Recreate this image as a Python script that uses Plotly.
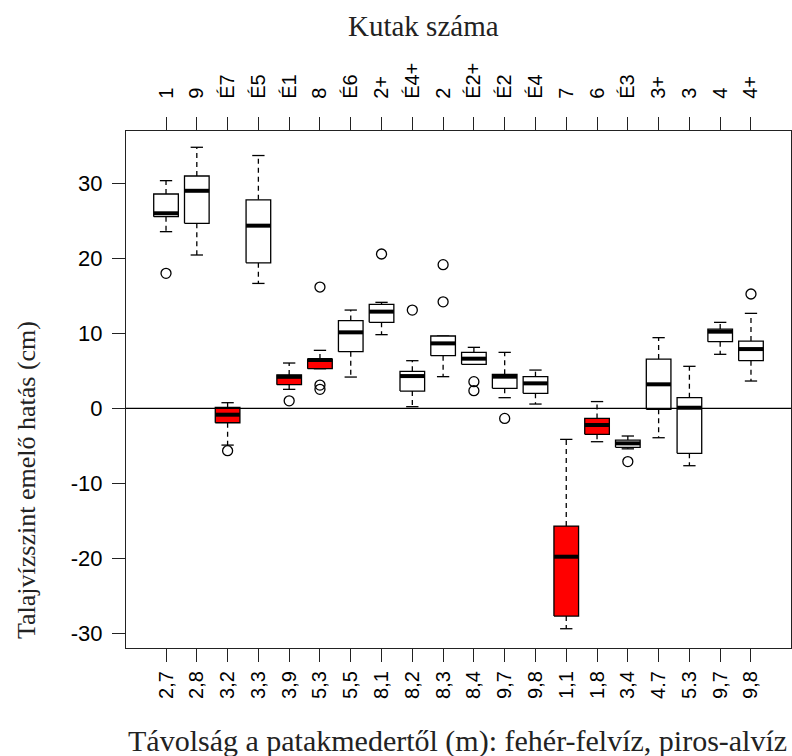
import plotly.graph_objects as go

# Well identifiers (top axis) and distance from the stream bed in metres (bottom axis)
wells = ["1", "9", "É7", "É5", "É1", "8", "É6", "2+", "É4+", "2",
         "É2+", "É2", "É4", "7", "6", "É3", "3+", "3", "4", "4+"]
distances = ["2,7", "2,8", "3,2", "3,3", "3,9", "5,3", "5,5", "8,1", "8,2", "8,3",
             "8,4", "9,7", "9,8", "1,1", "1,8", "3,4", "4.7", "5.3", "9,7", "9,8"]
y_ticks = [-30, -20, -10, 0, 10, 20, 30]
y_tick_text = ["-30", "-20", "-10", "0", "10", "20", "30"]

# Box statistics (cm)
whisker_low = [23.55, 20.44, -4.9, 16.65, 2.53, 5.28, 4.17, 9.82, 0.22, 4.22,
               5.86, 1.42, 0.57, -29.38, -4.45, -5.4, -3.92, -7.65, 7.2, 3.64]
q1 = [25.55, 24.66, -1.92, 19.4, 3.15, 5.28, 7.55, 11.46, 2.3, 7.02,
      5.86, 2.66, 2.0, -27.7, -3.47, -5.2, -0.13, -6.0, 8.89, 6.35]
median = [26.0, 29.0, -0.85, 24.35, 4.2, 6.44, 10.13, 12.89, 4.3, 8.66,
          6.62, 4.22, 3.33, -19.78, -2.22, -4.67, 3.2, 0.08, 10.22, 7.9]
q3 = [28.57, 30.97, 0.13, 27.8, 4.44, 6.57, 11.7, 13.86, 4.93, 9.64,
      7.46, 4.53, 4.22, -15.7, -1.34, -4.23, 6.57, 1.42, 10.57, 8.97]
whisker_high = [30.35, 34.8, 0.75, 33.7, 6.04, 7.73, 13.1, 14.13, 6.35, 9.64,
                8.13, 7.46, 5.1, -4.14, 0.9, -3.69, 9.42, 5.6, 11.46, 12.66]
outliers = [[18.0], [], [-5.65], [], [1.0], [3.1, 2.53, 16.17], [], [20.57], [13.1], [19.15, 14.2],
            [3.55, 2.35], [-1.34], [], [], [], [-7.1], [], [], [], [15.24]]
# groundwater below the stream level (alvíz) drawn in red
is_red = [False, False, True, False, True, True, False, False, False, False,
          False, False, False, True, True, False, False, False, False, False]

HALF_BOX = 0.4
HALF_CAP = 0.2
X_RANGE = [-0.3, 21.3]
positions = list(range(1, len(wells) + 1))

fig = go.Figure()

white_x, white_y, red_x, red_y = [], [], [], []
wh_x, wh_y, cap_x, cap_y, med_x, med_y, out_x, out_y = [], [], [], [], [], [], [], []
for i, p in enumerate(positions):
    rx = [p - HALF_BOX, p + HALF_BOX, p + HALF_BOX, p - HALF_BOX, p - HALF_BOX, None]
    ry = [q1[i], q1[i], q3[i], q3[i], q1[i], None]
    if is_red[i]:
        red_x += rx
        red_y += ry
    else:
        white_x += rx
        white_y += ry
    wh_x += [p, p, None, p, p, None]
    wh_y += [q3[i], whisker_high[i], None, q1[i], whisker_low[i], None]
    cap_x += [p - HALF_CAP, p + HALF_CAP, None, p - HALF_CAP, p + HALF_CAP, None]
    cap_y += [whisker_high[i], whisker_high[i], None, whisker_low[i], whisker_low[i], None]
    med_x += [p - HALF_BOX, p + HALF_BOX, None]
    med_y += [median[i], median[i], None]
    for v in outliers[i]:
        out_x.append(p)
        out_y.append(v)

# dashed whiskers and solid staples
fig.add_trace(go.Scatter(x=wh_x, y=wh_y, mode="lines",
                         line=dict(color="black", width=1.3, dash="5px,4px"),
                         hoverinfo="skip"))
fig.add_trace(go.Scatter(x=cap_x, y=cap_y, mode="lines",
                         line=dict(color="black", width=1.3), hoverinfo="skip"))
# boxes
fig.add_trace(go.Scatter(x=white_x, y=white_y, mode="lines", fill="toself",
                         fillcolor="white", line=dict(color="black", width=1.3),
                         hoverinfo="skip"))
fig.add_trace(go.Scatter(x=red_x, y=red_y, mode="lines", fill="toself",
                         fillcolor="#ff0000", line=dict(color="black", width=1.3),
                         hoverinfo="skip"))
# medians
fig.add_trace(go.Scatter(x=med_x, y=med_y, mode="lines",
                         line=dict(color="black", width=4), hoverinfo="skip"))
# outliers
fig.add_trace(go.Scatter(x=out_x, y=out_y, mode="markers",
                         marker=dict(symbol="circle-open", size=10, color="black",
                                     line=dict(width=1.3)),
                         hoverinfo="skip"))
# zero reference line
fig.add_trace(go.Scatter(x=X_RANGE, y=[0, 0], mode="lines",
                         line=dict(color="black", width=1.2), hoverinfo="skip"))
# carrier trace for the top axis
fig.add_trace(go.Scatter(x=[1], y=[0], xaxis="x2", mode="markers",
                         marker=dict(opacity=0), hoverinfo="skip"))

x_tick_font = dict(family="Liberation Sans, Arial, sans-serif", size=20, color="black")
y_tick_font = dict(family="Liberation Sans, Arial, sans-serif", size=22, color="black")
axis_common = dict(showgrid=False, zeroline=False, showline=True, linecolor="#222",
                   linewidth=1.3, ticks="outside", ticklen=13, tickwidth=1.3,
                   tickcolor="#222")

fig.update_layout(
    width=792, height=756,
    margin=dict(l=126, r=1, t=131, b=108),
    paper_bgcolor="white", plot_bgcolor="white",
    showlegend=False,
    xaxis=dict(range=X_RANGE, tickvals=positions, ticktext=distances,
               tickangle=-90, ticklabelstandoff=1, tickfont=x_tick_font, **axis_common),
    xaxis2=dict(range=X_RANGE, tickvals=positions, ticktext=wells,
                tickangle=-90, overlaying="x", side="top", anchor="y",
                ticklabelstandoff=14, tickfont=x_tick_font, **axis_common),
    yaxis=dict(range=[-31.95, 36.97], tickvals=y_ticks, ticktext=y_tick_text,
               mirror=True, ticklabelstandoff=5, tickfont=y_tick_font, **axis_common),
)

serif = "Liberation Serif, Times New Roman, serif"
H_PLOT = 756 - 131 - 108


def py(pixel_y):
    return (756 - 108 - pixel_y) / H_PLOT


def px(pixel_x):
    return (pixel_x - 126) / (792 - 126 - 1)


fig.add_annotation(text="Kutak száma", x=px(423), y=py(26), xref="paper", yref="paper",
                   showarrow=False, font=dict(family=serif, size=29, color="#222"),
                   xanchor="center", yanchor="middle")
fig.add_annotation(text="Távolság a patakmedertől (m): fehér-felvíz, piros-alvíz",
                   x=px(457), y=py(741), xref="paper", yref="paper", showarrow=False,
                   font=dict(family=serif, size=30, color="#222"),
                   xanchor="center", yanchor="middle")
fig.add_annotation(text="Talajvízszint emelő hatás (cm)", x=px(26), y=py(480),
                   xref="paper", yref="paper", showarrow=False, textangle=-90,
                   font=dict(family=serif, size=26, color="#222"),
                   xanchor="center", yanchor="middle")

fig.write_html("out.html")
